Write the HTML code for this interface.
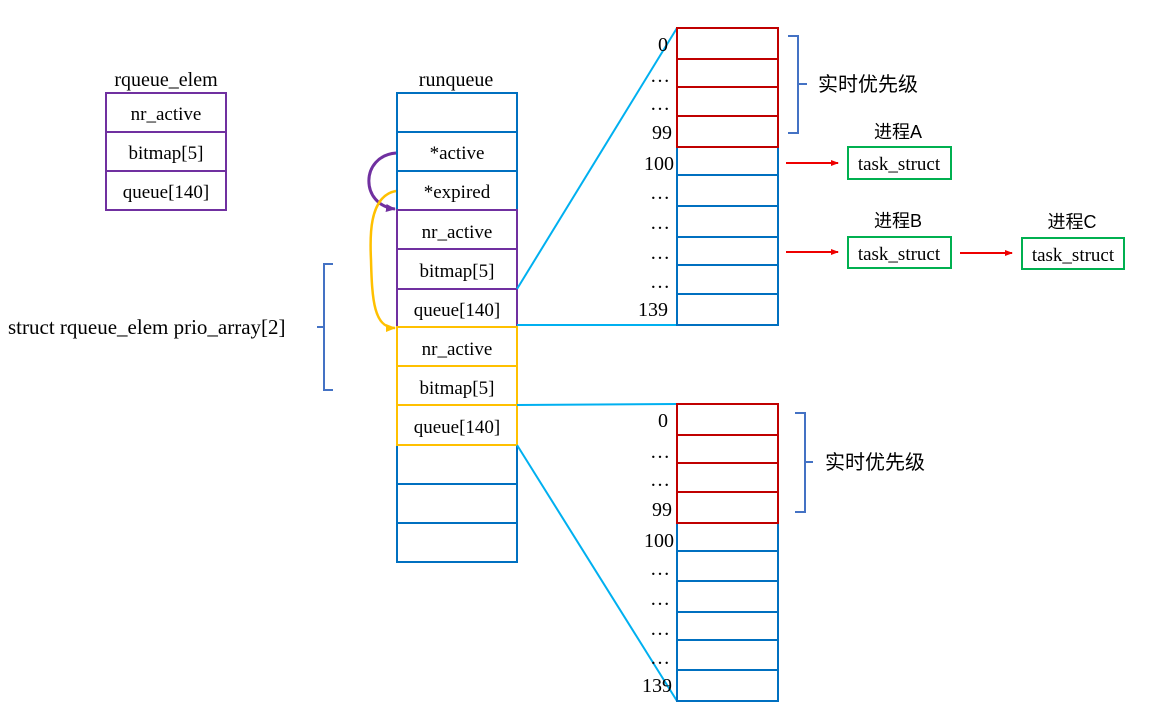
<!DOCTYPE html>
<html><head><meta charset="utf-8"><style>
html,body{margin:0;padding:0;background:#fff;}
svg{display:block;}
text{font-family:"Liberation Serif",serif;fill:#000;}
.t{font-size:19px;}
.n{font-size:20px;}
.cjk{font-family:"Liberation Sans","Noto Sans CJK SC",sans-serif;font-size:20px;}
.cj2{font-family:"Liberation Sans","Noto Sans CJK SC",sans-serif;font-size:18px;}
</style></head><body>
<svg width="1160" height="725" viewBox="0 0 1160 725" xmlns="http://www.w3.org/2000/svg">
<defs>
<marker id="ar" markerWidth="8" markerHeight="8" refX="7" refY="3" orient="auto" markerUnits="userSpaceOnUse"><path d="M0,0 L8,3 L0,6 z" fill="#e00"/></marker>
<marker id="ap" markerWidth="10" markerHeight="10" refX="9" refY="4" orient="auto" markerUnits="userSpaceOnUse"><path d="M0,0 L10,4 L0,8 z" fill="#7030a0"/></marker>
<marker id="ay" markerWidth="10" markerHeight="10" refX="9" refY="4" orient="auto" markerUnits="userSpaceOnUse"><path d="M0,0 L10,4 L0,8 z" fill="#ffc000"/></marker>
</defs>

<!-- rqueue_elem -->
<text class="n" x="166" y="86" text-anchor="middle">rqueue_elem</text>
<g fill="none" stroke="#7030a0" stroke-width="2">
<rect x="106" y="93" width="120" height="117"/>
<line x1="106" y1="132" x2="226" y2="132"/>
<line x1="106" y1="171" x2="226" y2="171"/>
</g>
<text class="t" x="166" y="120" text-anchor="middle">nr_active</text>
<text class="t" x="166" y="159" text-anchor="middle">bitmap[5]</text>
<text class="t" x="166" y="198" text-anchor="middle">queue[140]</text>

<!-- struct label + brace -->
<text x="8" y="334" style="font-size:21px">struct rqueue_elem prio_array[2]</text>
<path d="M333,264 L324,264 L324,327 L317,327 M324,327 L324,390 L333,390" fill="none" stroke="#4472c4" stroke-width="2"/>

<!-- runqueue -->
<text class="n" x="456" y="86" text-anchor="middle">runqueue</text>
<g fill="none" stroke-width="2">
<rect x="397" y="93" width="120" height="117" stroke="#0070c0"/>
<line x1="397" y1="132" x2="517" y2="132" stroke="#0070c0"/>
<line x1="397" y1="171" x2="517" y2="171" stroke="#0070c0"/>
<rect x="397" y="445" width="120" height="117" stroke="#0070c0"/>
<line x1="397" y1="484" x2="517" y2="484" stroke="#0070c0"/>
<line x1="397" y1="523" x2="517" y2="523" stroke="#0070c0"/>
<rect x="397" y="210" width="120" height="117" stroke="#7030a0"/>
<line x1="397" y1="249" x2="517" y2="249" stroke="#7030a0"/>
<line x1="397" y1="289" x2="517" y2="289" stroke="#7030a0"/>
<rect x="397" y="327" width="120" height="118" stroke="#ffc000"/>
<line x1="397" y1="366" x2="517" y2="366" stroke="#ffc000"/>
<line x1="397" y1="405" x2="517" y2="405" stroke="#ffc000"/>
</g>
<text class="t" x="457" y="159" text-anchor="middle">*active</text>
<text class="t" x="457" y="198" text-anchor="middle">*expired</text>
<text class="t" x="457" y="238" text-anchor="middle">nr_active</text>
<text class="t" x="457" y="277" text-anchor="middle">bitmap[5]</text>
<text class="t" x="457" y="316" text-anchor="middle">queue[140]</text>
<text class="t" x="457" y="355" text-anchor="middle">nr_active</text>
<text class="t" x="457" y="394" text-anchor="middle">bitmap[5]</text>
<text class="t" x="457" y="433" text-anchor="middle">queue[140]</text>

<!-- curved pointers -->
<path d="M396,153 C360,156 360,205 395,209" fill="none" stroke="#7030a0" stroke-width="3" marker-end="url(#ap)"/>
<path d="M396,191 C368,196 370,240 371,260 C372,300 374,328 395,328" fill="none" stroke="#ffc000" stroke-width="2.5" marker-end="url(#ay)"/>

<!-- cyan connectors -->
<g stroke="#00b0f0" stroke-width="2">
<line x1="517" y1="289" x2="677" y2="28"/>
<line x1="517" y1="325" x2="677" y2="325"/>
<line x1="517" y1="405" x2="677" y2="404"/>
<line x1="517" y1="445" x2="677" y2="701"/>
</g>

<!-- top array -->
<g fill="none" stroke-width="2">
<rect x="677" y="147" width="101" height="178" stroke="#0070c0"/>
<line x1="677" y1="175" x2="778" y2="175" stroke="#0070c0"/>
<line x1="677" y1="206" x2="778" y2="206" stroke="#0070c0"/>
<line x1="677" y1="237" x2="778" y2="237" stroke="#0070c0"/>
<line x1="677" y1="265" x2="778" y2="265" stroke="#0070c0"/>
<line x1="677" y1="294" x2="778" y2="294" stroke="#0070c0"/>
<rect x="677" y="28" width="101" height="119" stroke="#c00000"/>
<line x1="677" y1="59" x2="778" y2="59" stroke="#c00000"/>
<line x1="677" y1="87" x2="778" y2="87" stroke="#c00000"/>
<line x1="677" y1="116" x2="778" y2="116" stroke="#c00000"/>
</g>
<g text-anchor="end" class="n">
<text class="n" x="668" y="51">0</text>
<text class="n" x="670" y="82">…</text>
<text class="n" x="670" y="110">…</text>
<text class="n" x="672" y="139">99</text>
<text class="n" x="674" y="170">100</text>
<text class="n" x="670" y="199">…</text>
<text class="n" x="670" y="229">…</text>
<text class="n" x="670" y="259">…</text>
<text class="n" x="670" y="288">…</text>
<text class="n" x="668" y="316">139</text>
</g>

<!-- bottom array -->
<g fill="none" stroke-width="2">
<rect x="677" y="523" width="101" height="178" stroke="#0070c0"/>
<line x1="677" y1="551" x2="778" y2="551" stroke="#0070c0"/>
<line x1="677" y1="581" x2="778" y2="581" stroke="#0070c0"/>
<line x1="677" y1="612" x2="778" y2="612" stroke="#0070c0"/>
<line x1="677" y1="640" x2="778" y2="640" stroke="#0070c0"/>
<line x1="677" y1="670" x2="778" y2="670" stroke="#0070c0"/>
<rect x="677" y="404" width="101" height="119" stroke="#c00000"/>
<line x1="677" y1="435" x2="778" y2="435" stroke="#c00000"/>
<line x1="677" y1="463" x2="778" y2="463" stroke="#c00000"/>
<line x1="677" y1="492" x2="778" y2="492" stroke="#c00000"/>
</g>
<g text-anchor="end">
<text class="n" x="668" y="427">0</text>
<text class="n" x="670" y="458">…</text>
<text class="n" x="670" y="486">…</text>
<text class="n" x="672" y="516">99</text>
<text class="n" x="674" y="547">100</text>
<text class="n" x="670" y="575">…</text>
<text class="n" x="670" y="605">…</text>
<text class="n" x="670" y="635">…</text>
<text class="n" x="670" y="664">…</text>
<text class="n" x="672" y="692">139</text>
</g>

<!-- braces right -->
<path d="M788,36 L798,36 L798,84 L807,84 M798,84 L798,133 L788,133" fill="none" stroke="#4472c4" stroke-width="2"/>
<text class="cjk" x="818" y="91">实时优先级</text>
<path d="M795,413 L805,413 L805,462 L813,462 M805,462 L805,512 L795,512" fill="none" stroke="#4472c4" stroke-width="2"/>
<text class="cjk" x="825" y="469">实时优先级</text>

<!-- tasks -->
<g fill="none" stroke="#00b050" stroke-width="2">
<rect x="848" y="147" width="103" height="32"/>
<rect x="848" y="237" width="103" height="31"/>
<rect x="1022" y="238" width="102" height="31"/>
</g>
<text class="t" x="899" y="170" text-anchor="middle">task_struct</text>
<text class="t" x="899" y="260" text-anchor="middle">task_struct</text>
<text class="t" x="1073" y="261" text-anchor="middle">task_struct</text>
<text class="cj2" x="898" y="138" text-anchor="middle">进程A</text>
<text class="cj2" x="898" y="227" text-anchor="middle">进程B</text>
<text class="cj2" x="1072" y="228" text-anchor="middle">进程C</text>
<g stroke="#e00" stroke-width="2">
<line x1="786" y1="163" x2="838" y2="163" marker-end="url(#ar)"/>
<line x1="786" y1="252" x2="838" y2="252" marker-end="url(#ar)"/>
<line x1="960" y1="253" x2="1012" y2="253" marker-end="url(#ar)"/>
</g>
</svg>
</body></html>
